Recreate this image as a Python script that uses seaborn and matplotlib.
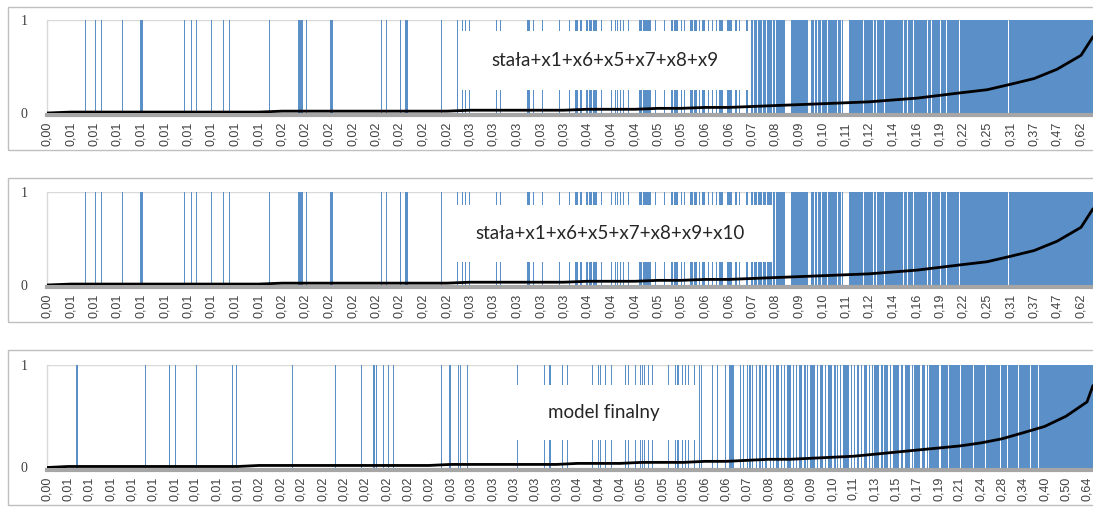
import numpy as np
import matplotlib
matplotlib.use("Agg")
import matplotlib.pyplot as plt
from matplotlib.patches import Rectangle
import seaborn as sns

# ---------------- data ----------------
# Predicted probability printed under every labelled case (sorted ascending)
labels_ab = (["0,00"] + ["0,01"] * 9 + ["0,02"] * 8 + ["0,03"] * 5 + ["0,04"] * 3
             + ["0,05"] * 2 + ["0,06"] * 2
             + ["0,07", "0,08", "0,09", "0,10", "0,11", "0,12", "0,14", "0,16",
                "0,19", "0,22", "0,25", "0,31", "0,37", "0,47", "0,62"])
labels_c = (["0,00"] + ["0,01"] * 9 + ["0,02"] * 9 + ["0,03"] * 6 + ["0,04"] * 3
            + ["0,05"] * 3 + ["0,06"] * 2
            + ["0,07", "0,08", "0,08", "0,09", "0,10", "0,11", "0,13", "0,15",
               "0,17", "0,19", "0,21", "0,24", "0,28", "0,34", "0,40", "0,50", "0,64"])

# number of cases shown and rank of the last labelled case
cases_ab, last_label_ab = 1046, 1034
cases_c, last_label_c = 2092, 2080
# probability of the highest-ranked case
top_prob_ab = 0.82
top_prob_c = 0.80

# observed y = 1: (first rank, number of consecutive cases)
ones_a = [(38, 1), (48, 1), (54, 1), (75, 1), (93, 3), (137, 1), (144, 1), (149, 1),
          (164, 1), (176, 1), (182, 1), (222, 1), (251, 5), (259, 1), (283, 3), (334, 1),
          (339, 1), (353, 1), (358, 3), (394, 1), (410, 1), (415, 1), (418, 1), (422, 1),
          (449, 1), (453, 1), (480, 3), (486, 1), (495, 1), (512, 1), (522, 1), (528, 3),
          (533, 2), (539, 2), (542, 3), (546, 4), (554, 1), (564, 1), (568, 1), (570, 1),
          (573, 1), (576, 1), (581, 1), (592, 3), (596, 8), (608, 1), (617, 1), (624, 2),
          (627, 4), (634, 1), (637, 1), (643, 3), (647, 3), (652, 1), (655, 3), (661, 1),
          (665, 1), (669, 1), (672, 4), (680, 5), (688, 2), (692, 1), (699, 2), (704, 2),
          (707, 3), (711, 4), (716, 3), (720, 5), (726, 2), (729, 9), (744, 17), (764, 3),
          (768, 2), (771, 3), (775, 5), (781, 9), (791, 3), (795, 1), (802, 14), (817, 9),
          (827, 2), (830, 7), (838, 18), (857, 3), (861, 5), (867, 13), (881, 3), (885, 8),
          (894, 5), (900, 12), (913, 48), (962, 84)]
ones_b = [(38, 1), (48, 1), (54, 1), (75, 1), (93, 3), (137, 1), (144, 1), (149, 1),
          (164, 1), (176, 1), (182, 1), (222, 1), (251, 5), (259, 1), (283, 3), (334, 1),
          (339, 1), (353, 1), (358, 3), (394, 1), (410, 1), (415, 1), (418, 1), (422, 1),
          (449, 1), (453, 1), (480, 3), (486, 1), (495, 1), (512, 1), (522, 1), (528, 3),
          (533, 2), (539, 2), (542, 3), (546, 4), (554, 1), (564, 1), (568, 1), (570, 1),
          (573, 1), (576, 1), (581, 1), (592, 3), (596, 8), (608, 1), (617, 1), (624, 2),
          (627, 4), (634, 1), (637, 1), (643, 3), (647, 3), (652, 1), (655, 3), (661, 1),
          (665, 1), (669, 1), (672, 4), (680, 5), (688, 2), (692, 1), (699, 2), (704, 2),
          (707, 3), (711, 4), (716, 3), (720, 5), (726, 2), (729, 9), (744, 17), (764, 3),
          (768, 2), (771, 3), (775, 5), (781, 9), (791, 3), (795, 1), (802, 14), (817, 9),
          (827, 2), (830, 7), (838, 18), (857, 3), (861, 5), (867, 13), (881, 3), (885, 8),
          (894, 5), (900, 12), (913, 48), (962, 84)]
ones_c = [(58, 3), (79, 1), (195, 3), (211, 1), (243, 2), (256, 2), (297, 3), (337, 1),
          (369, 3), (378, 1), (449, 1), (490, 2), (541, 1), (576, 2), (591, 1), (623, 1),
          (628, 2), (652, 3), (657, 2), (661, 1), (672, 2), (682, 1), (691, 2), (781, 1),
          (788, 1), (804, 3), (821, 2), (826, 2), (831, 1), (839, 2), (933, 1), (939, 2),
          (949, 1), (993, 2), (1004, 4), (1023, 1), (1029, 2), (1039, 2), (1049, 1),
          (1069, 1), (1073, 1), (1077, 1), (1081, 1), (1089, 3), (1101, 3), (1106, 2),
          (1116, 2), (1123, 1), (1128, 2), (1156, 1), (1161, 2), (1176, 2), (1186, 2),
          (1190, 1), (1194, 2), (1199, 1), (1202, 2), (1209, 2), (1223, 1), (1233, 1),
          (1241, 2), (1255, 3), (1260, 3), (1269, 2), (1276, 2), (1281, 2), (1293, 2),
          (1303, 3), (1308, 2), (1319, 1), (1329, 2), (1339, 3), (1349, 1), (1356, 2),
          (1363, 4), (1368, 5), (1379, 1), (1386, 2), (1391, 2), (1399, 3), (1403, 4),
          (1410, 2), (1418, 1), (1424, 3), (1430, 1), (1436, 4), (1446, 2), (1452, 1),
          (1458, 6), (1468, 2), (1474, 1), (1480, 8), (1492, 2), (1498, 1), (1504, 5),
          (1514, 3), (1520, 1), (1526, 10), (1540, 2), (1546, 6), (1556, 1), (1562, 8),
          (1574, 3), (1580, 1), (1586, 2), (1592, 12), (1608, 2), (1614, 1), (1620, 4),
          (1628, 1), (1634, 6), (1644, 2), (1650, 1), (1654, 10), (1668, 3), (1674, 8),
          (1686, 2), (1692, 12), (1708, 4), (1716, 10), (1730, 1), (1734, 12), (1750, 6),
          (1760, 1), (1764, 20), (1788, 13), (1804, 21), (1828, 23), (1854, 21),
          (1878, 27), (1908, 11), (1922, 19), (1944, 21), (1968, 13), (1984, 108)]

model_names = ["stała+x1+x6+x5+x7+x8+x9",
               "stała+x1+x6+x5+x7+x8+x9+x10",
               "model finalny"]

# ---------------- styling ----------------
sns.set_style("white")
plt.rcParams["font.family"] = ["Lato", "DejaVu Sans"]

W, H = 1093, 509
BLUE = "#5b8fc8"
fig = plt.figure(figsize=(W / 100, H / 100), dpi=100)


def fx(px):
    return px / W


def fy(py):
    return 1 - py / H


def outcome_array(runs, n):
    y = np.zeros(n, dtype=int)
    for start, length in runs:
        y[start:start + length] = 1
    return y


def draw_panel(ax, runs, n, labels, last_label, top_prob):
    # spines first: moving a spine rebuilds the tick objects
    for side in ("top", "right"):
        ax.spines[side].set_visible(False)
    ax.spines["left"].set_color("#d9d9d9")
    ax.spines["left"].set_linewidth(1)
    ax.spines["bottom"].set_color("#a6a6a6")
    ax.spines["bottom"].set_linewidth(3)
    ax.spines["bottom"].set_position(("outward", 1.5))

    y = outcome_array(runs, n)
    # group consecutive y = 1 cases into solid blocks
    edges = np.diff(np.concatenate([[0], y, [0]]))
    starts = np.where(edges == 1)[0]
    stops = np.where(edges == -1)[0]
    ax.bar(starts, 1, width=stops - starts, align="edge", color=BLUE,
           linewidth=0, zorder=2)

    tick_pos = np.round(np.linspace(0, last_label, len(labels)))
    probs = [float(s.replace(",", ".")) for s in labels]
    sns.lineplot(x=np.append(tick_pos, n), y=probs + [top_prob], ax=ax,
                 color="black", linewidth=2.0, zorder=4)

    ax.set_xlim(0, n)
    ax.set_ylim(0, 1)
    ax.tick_params(axis="x", length=0, pad=5, labelrotation=90)
    ax.tick_params(axis="y", length=0, pad=14)
    ax.set_xticks(tick_pos)
    ax.set_xticklabels(labels, fontsize=9, color="#404040",
                       family=["Liberation Sans Narrow", "Liberation Sans", "DejaVu Sans"],
                       rotation=90, ha="center", va="top")
    ax.set_yticks([0, 1])
    ax.set_yticklabels(["0", "1"], fontsize=10, color="#404040",
                       family=["Liberation Serif", "DejaVu Serif"])
    ax.axhline(1, color="#d9d9d9", lw=1, zorder=1)
    ax.set_xlabel("")
    ax.set_ylabel("")
    ax.patch.set_alpha(0)


# panel frames (px): top, bottom
frames = [(6.5, 150), (178, 322), (350, 505)]
# plot areas (px): y of value 1, y of value 0
areas = [(20, 113), (192, 285), (365, 467.5)]
# label boxes (px): left, top, right, bottom
boxes = [(462, 31, 748, 90), (448, 205, 773, 262), (512, 385, 695, 440)]
panels = [(ones_a, cases_ab, labels_ab, last_label_ab, top_prob_ab),
          (ones_b, cases_ab, labels_ab, last_label_ab, top_prob_ab),
          (ones_c, cases_c, labels_c, last_label_c, top_prob_c)]

for (ft, fb), (a1, a0), box, (runs, n, labels, last, top), name in zip(
        frames, areas, boxes, panels, model_names):
    fig.add_artist(Rectangle((fx(7.5), fy(fb)), fx(1200), fy(ft) - fy(fb),
                             transform=fig.transFigure, fill=False,
                             edgecolor="#bfbfbf", linewidth=1))
    ax = fig.add_axes([fx(47), fy(a0), fx(W - 47), fy(a1) - fy(a0)])
    draw_panel(ax, runs, n, labels, last, top)
    l, t, r, b = box
    fig.add_artist(Rectangle((fx(l), fy(b)), fx(r - l), fy(t) - fy(b),
                             transform=fig.transFigure, facecolor="white",
                             edgecolor="none", zorder=5))
    fig.text(fx((l + r) / 2), fy((t + b) / 2), name, ha="center", va="center",
             fontsize=13.5, color="#262626", zorder=6)

fig.savefig("out.png", dpi=100)
